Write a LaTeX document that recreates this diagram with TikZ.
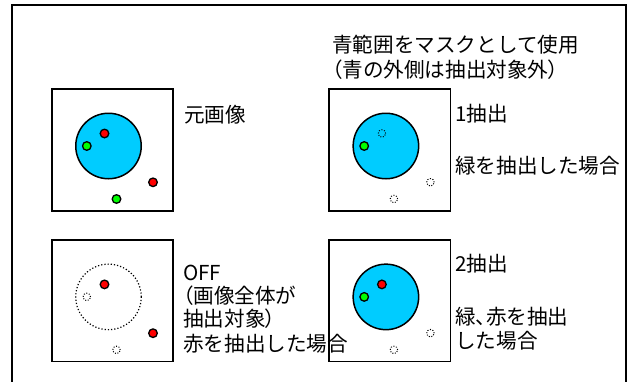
\documentclass[tikz,border=0pt]{standalone}
\usepackage{fontspec}
\setmainfont{Noto Sans CJK JP}
\newfontfamily\jpp[RawFeature=+palt]{Noto Sans CJK JP}
\newcommand\jlp{{\jpp （}}
\newcommand\jrp{{\jpp ）}}
\newcommand\jtou{{\jpp 、}}
\definecolor{maskblue}{HTML}{00CCFF}
\definecolor{dotred}{HTML}{FF0000}
\definecolor{dotgreen}{HTML}{00FF00}
\begin{document}
\begin{tikzpicture}[x=1pt,y=-1pt,
  frameline/.style={line width=2pt, draw=black},
  imgbox/.style={draw=black, line width=1.6pt, minimum size=121.5pt, inner sep=0pt},
  maskdisk/.style={circle, draw=black, line width=1.5pt, fill=maskblue, minimum size=65.5pt, inner sep=0pt},
  ringdots/.style={circle, draw=black, line width=1.2pt, dash pattern=on 1.2pt off 2pt, minimum size=65.5pt, inner sep=0pt},
  rdot/.style={circle, draw=black, line width=1.3pt, fill=dotred, minimum size=8.6pt, inner sep=0pt},
  gdot/.style={circle, draw=black, line width=1.3pt, fill=dotgreen, minimum size=8.6pt, inner sep=0pt},
  ghost/.style={circle, draw=black, line width=1pt, dash pattern=on 1pt off 1.6pt, minimum size=7.5pt, inner sep=0pt},
  lbl/.style={anchor=west, inner sep=0pt, font=\fontsize{20.6}{24}\selectfont}
]
\useasboundingbox (0,0) rectangle (637,381);
\fill[white] (0,0) rectangle (637,381);
% outer frame (open at the bottom)
\coordinate (fbl) at (12,382);
\coordinate (ftl) at (12,4.7);
\coordinate (ftr) at (626,4.7);
\coordinate (fbr) at (626,382);
\draw[frameline] (fbl) -- (ftl) -- (ftr) -- (fbr);

% image boxes
\node[imgbox] (b1) at (112.5,150) {};
\node[imgbox] (b2) at (389.9,150) {};
\node[imgbox] (b3) at (112.5,300.9) {};
\node[imgbox] (b4) at (389.9,300.9) {};

% box 1: original image
\begin{scope}[shift={(b1.center)}]
  \node[maskdisk] (m1) at (-4,-4) {};
  \node[rdot] (r1a) at (-8,-16.5) {};
  \node[gdot] (g1a) at (-25.7,-4) {};
  \node[rdot] (r1b) at (40.5,32.3) {};
  \node[gdot] (g1b) at (4,49) {};
\end{scope}
% box 2: 1 extraction, green
\begin{scope}[shift={(b2.center)}]
  \node[maskdisk] (m2) at (-4,-4) {};
  \node[ghost] (r2a) at (-8,-16.5) {};
  \node[gdot] (g2a) at (-25.7,-4) {};
  \node[ghost] (r2b) at (40.5,32.3) {};
  \node[ghost] (g2b) at (4,49) {};
\end{scope}
% box 3: OFF, red
\begin{scope}[shift={(b3.center)}]
  \node[ringdots] (m3) at (-4,-4) {};
  \node[rdot] (r3a) at (-8,-16.5) {};
  \node[ghost] (g3a) at (-25.7,-4) {};
  \node[rdot] (r3b) at (40.5,32.3) {};
  \node[ghost] (g3b) at (4,49) {};
\end{scope}
% box 4: 2 extraction, green and red
\begin{scope}[shift={(b4.center)}]
  \node[maskdisk] (m4) at (-4,-4) {};
  \node[rdot] (r4a) at (-8,-16.5) {};
  \node[gdot] (g4a) at (-25.7,-4) {};
  \node[ghost] (r4b) at (40.5,32.3) {};
  \node[ghost] (g4b) at (4,49) {};
\end{scope}

% labels
\node[lbl] (t0a) at (332,45) {青範囲をマスクとして使用};
\node[lbl] (t0b) at (332,70) {\jlp 青の外側は抽出対象外\jrp};
\node[lbl] (t1) at (184,115) {元画像};
\node[lbl] (t2a) at (455,114) {1抽出};
\node[lbl] (t2b) at (455,166) {緑を抽出した場合};
\node[lbl] (t3a) at (183,273) {OFF};
\node[lbl] (t3b) at (183,295.5) {\jlp 画像全体が};
\node[lbl] (t3c) at (183,318.5) {抽出対象\jrp};
\node[lbl] (t3d) at (183,344) {赤を抽出した場合};
\node[lbl] (t4a) at (455,264) {2抽出};
\node[lbl] (t4b) at (455,317) {緑\jtou 赤を抽出};
\node[lbl] (t4c) at (455,341) {した場合};
\end{tikzpicture}
\end{document}
